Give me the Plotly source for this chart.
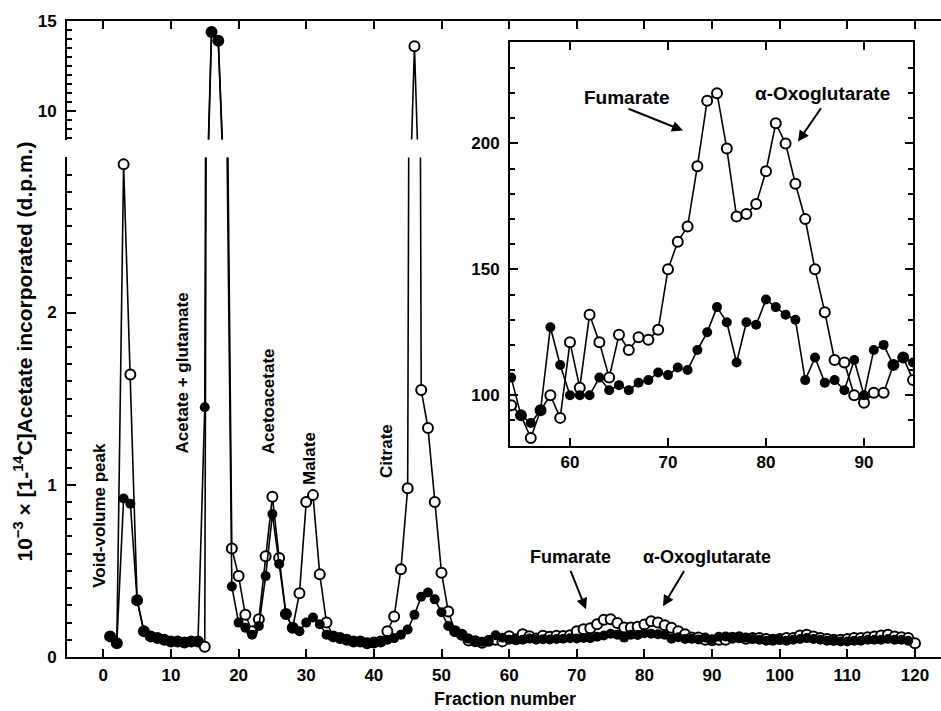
import plotly.graph_objects as go

# ---------------- data (10^-3 x d.p.m.) ----------------
fractions_open = list(range(1, 121))
fractions_filled = list(range(1, 120))

open_vals = [
    0.12, 0.08, 2.86, 1.64, 0.33, 0.15, 0.12, 0.11, 0.10, 0.09,
    0.09, 0.085, 0.09, 0.09, 0.06, 14.4, 13.9, 4.6, 0.63, 0.47,
    0.245, 0.15, 0.22, 0.585, 0.93, 0.575, 0.25, 0.17, 0.37, 0.90,
    0.94, 0.48, 0.20, 0.12, 0.11, 0.10, 0.09, 0.09, 0.08, 0.085,
    0.09, 0.15, 0.235, 0.51, 0.98, 13.6, 1.55, 1.33, 0.90, 0.49,
    0.265, 0.15, 0.13,
    0.096, 0.092, 0.083, 0.094, 0.100, 0.091, 0.121,
    0.103, 0.132, 0.121, 0.107, 0.124, 0.118, 0.123, 0.122, 0.126, 0.150,
    0.161, 0.167, 0.191, 0.217, 0.220, 0.198, 0.171, 0.172, 0.176, 0.189,
    0.208, 0.200, 0.184, 0.170, 0.150, 0.133, 0.114, 0.113, 0.100, 0.097,
    0.101, 0.101, 0.112, 0.115, 0.106,
    0.11, 0.11, 0.105, 0.10, 0.105, 0.11, 0.11, 0.125, 0.13, 0.12,
    0.11, 0.105, 0.10, 0.10, 0.105, 0.11, 0.11, 0.115, 0.12, 0.125,
    0.13, 0.12, 0.115, 0.11, 0.08,
]

filled_vals = [
    0.12, 0.08, 0.92, 0.89, 0.33, 0.15, 0.12, 0.11, 0.10, 0.09,
    0.09, 0.085, 0.09, 0.09, 1.45, 14.4, 13.9, 4.0, 0.41, 0.20,
    0.17, 0.13, 0.18, 0.47, 0.83, 0.54, 0.25, 0.17, 0.15, 0.20,
    0.23, 0.19, 0.13, 0.12, 0.11, 0.10, 0.09, 0.09, 0.08, 0.085,
    0.09, 0.10, 0.11, 0.13, 0.16, 0.245, 0.35, 0.375, 0.335, 0.26,
    0.18, 0.15, 0.13,
    0.107, 0.092, 0.089, 0.094, 0.127, 0.112, 0.100,
    0.100, 0.100, 0.107, 0.102, 0.104, 0.102, 0.105, 0.106, 0.109, 0.108,
    0.111, 0.110, 0.118, 0.125, 0.135, 0.129, 0.113, 0.129, 0.128, 0.138,
    0.135, 0.132, 0.130, 0.106, 0.115, 0.105, 0.106, 0.102, 0.114, 0.100,
    0.118, 0.120, 0.112, 0.115, 0.113,
    0.105, 0.10, 0.095, 0.10, 0.10, 0.095, 0.10, 0.105, 0.11, 0.105,
    0.10, 0.095, 0.095, 0.09, 0.09, 0.095, 0.095, 0.10, 0.10, 0.10,
    0.105, 0.10, 0.10, 0.095,
]

x_ticks = [0, 10, 20, 30, 40, 50, 60, 70, 80, 90, 100, 110, 120]
inset_x_ticks = [60, 70, 80, 90]
inset_y_ticks = [100, 150, 200]
inset_lo, inset_hi = 54, 95

# inset values in d.p.m.
inset_open_x = [f for f in fractions_open if inset_lo <= f <= inset_hi]
inset_open_y = [v * 1000 for f, v in zip(fractions_open, open_vals) if inset_lo <= f <= inset_hi]
inset_filled_x = [f for f in fractions_filled if inset_lo <= f <= inset_hi]
inset_filled_y = [v * 1000 for f, v in zip(fractions_filled, filled_vals) if inset_lo <= f <= inset_hi]

# ---------------- geometry helpers ----------------
W, H = 941, 711
Y0, SY = 7.8, 0.978   # observed vertical offset/scale of the captured page
def px(x):
    return x / W
def fy(y):
    return (y - Y0) / SY
def py(y):
    return 1 - fy(y) / H

FONT = "Liberation Sans, Arial, sans-serif"
FS = 17
line_style = dict(color="black", width=1.6)
open_marker = dict(symbol="circle", size=10, color="white", line=dict(color="black", width=2))
filled_marker = dict(symbol="circle", size=10, color="black", line=dict(color="black", width=0))

fig = go.Figure()
for xa, ya in [("x", "y"), ("x2", "y2")]:
    fig.add_trace(go.Scatter(x=fractions_open, y=open_vals, mode="lines+markers",
                             line=line_style, marker=open_marker, xaxis=xa, yaxis=ya))
    fig.add_trace(go.Scatter(x=fractions_filled, y=filled_vals, mode="lines+markers",
                             line=line_style, marker=filled_marker, xaxis=xa, yaxis=ya))
fig.add_trace(go.Scatter(x=inset_open_x, y=inset_open_y, mode="lines+markers",
                         line=line_style, marker=open_marker, xaxis="x3", yaxis="y3"))
fig.add_trace(go.Scatter(x=inset_filled_x, y=inset_filled_y, mode="lines+markers",
                         line=line_style, marker=filled_marker, xaxis="x3", yaxis="y3"))

tfont = dict(family=FONT, size=FS, color="black", weight="bold")
ax_common = dict(showgrid=False, zeroline=False, showline=True, linecolor="black",
                 linewidth=2, ticks="inside", tickcolor="black", tickwidth=1.8,
                 tickfont=tfont)

x0 = (67 - 103.3) / 6.764
x1 = (941 - 103.3) / 6.764

fig.update_layout(
    width=W, height=H, margin=dict(l=0, r=0, t=0, b=0),
    paper_bgcolor="white", plot_bgcolor="white", showlegend=False,
    font=dict(family=FONT, size=FS, color="black"),
    xaxis=dict(ax_common, domain=[px(67), 1.0], range=[x0, x1], anchor="y",
               tickvals=x_ticks, ticklen=8, ticklabelstandoff=2),
    yaxis=dict(ax_common, domain=[py(659), py(157)], range=[0, 2.90], anchor="x",
               tickvals=[0, 1, 2], ticklen=9, ticklabelstandoff=5,
               minor=dict(dtick=0.1, ticks="inside", ticklen=5, tickcolor="black", tickwidth=1.5)),
    xaxis2=dict(ax_common, domain=[px(67), 1.0], range=[x0, x1], anchor="y2", side="top",
                matches="x", tickvals=x_ticks, ticklen=8, showticklabels=False),
    yaxis2=dict(ax_common, domain=[py(139), py(20)], range=[8.39, 15], anchor="x2",
                tickvals=[10, 15], ticklen=9, ticklabelstandoff=5,
                minor=dict(dtick=0.5, ticks="inside", ticklen=5, tickcolor="black", tickwidth=1.5)),
    xaxis3=dict(ax_common, domain=[px(510), px(913)], range=[53.88, 95.0], anchor="y3",
                mirror="ticks", tickvals=inset_x_ticks, ticklen=8),
    yaxis3=dict(ax_common, domain=[py(447), py(41)], range=[79.8, 240.3], anchor="x3",
                mirror="ticks", tickvals=inset_y_ticks, ticklen=8, ticklabelstandoff=5,
                minor=dict(dtick=10, ticks="inside", ticklen=5, tickcolor="black", tickwidth=1.5)),
)

anns = []
def text(t, x, y, angle=0, size=FS):
    anns.append(dict(text=t, x=px(x), y=py(y), xref="paper", yref="paper", showarrow=False,
                     textangle=angle, xanchor="center", yanchor="middle",
                     font=dict(family=FONT, size=size, color="black", weight="bold")))
def arrow(tail, tip):
    anns.append(dict(text="", x=px(tip[0]), y=py(tip[1]), xref="paper", yref="paper",
                     ax=tail[0] - tip[0], ay=fy(tail[1]) - fy(tip[1]), showarrow=True,
                     arrowhead=2, arrowsize=1.1, arrowwidth=2, arrowcolor="black"))

text("10<sup>−3</sup> × [1-<sup>14</sup>C]Acetate incorporated (d.p.m.)", 23, 352, -90, 21)
text("Fraction number", 505, 701, 0, 18)
text("Void-volume peak", 100, 517, -90)
text("Acetate + glutamate", 182, 374, -90)
text("Acetoacetate", 268, 402, -90)
text("Malate", 309, 460, -90)
text("Citrate", 386, 452, -90)
text("Fumarate", 570, 558, 0, 18)
text("α-Oxoglutarate", 707, 558, 0, 18)
arrow((570, 572), (586, 611))
arrow((685, 572), (663, 608))
text("Fumarate", 627, 97, 0, 19)
text("α-Oxoglutarate", 822, 93, 0, 19)
arrow((627, 108), (683, 130))
arrow((822, 107), (798, 141))

fig.update_layout(annotations=anns)
fig.write_html("out.html")
